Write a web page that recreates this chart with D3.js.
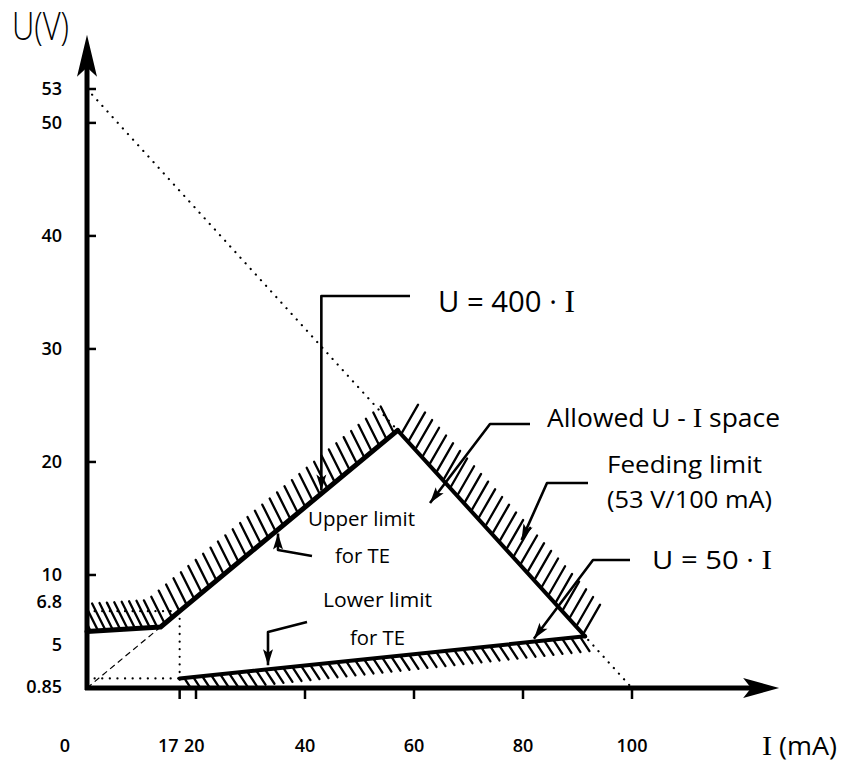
<!DOCTYPE html>
<html><head><meta charset="utf-8">
<script src="https://cdn.jsdelivr.net/npm/d3@7"></script>
<style>
html,body{margin:0;padding:0;background:#fff;}
svg{display:block;font-family:"Open Sans",sans-serif;}
</style></head><body>
<svg id="chart" width="841" height="769"></svg>
<script>
// Axis ticks and labels (current in mA, voltage in V)
const yTickValues = [53, 50, 40, 30, 20, 10];
const yLabelValues = [53, 50, 40, 30, 20, 10, 6.8, 5, 0.85];
const yLabelTexts = ["53", "50", "40", "30", "20", "10", "6.8", "5", "0.85"];
const xTickValues = [17, 20, 40, 60, 80, 100];
const xLabelValues = [40, 60, 80, 100];
const xLabelTexts = ["40", "60", "80", "100"];

// Limit curves as [I (mA), U (V)] vertices
const upperLimit = [[0, 5], [13.5, 5.4], [17, 6.8], [57, 22.8]];     // U = 400·I above 17 mA
const feedingLimit = [[57, 22.8], [91.4, 4.57]];                      // 53 V / 100 mA source
const feedingLine = [[0, 53], [100, 0]];
const lowerLimit = [[17, 0.85], [91.4, 4.57]];                        // U = 50·I
const upperExtension = [[0, 0], [13.5, 5.4]];
const guide68 = [[0, 6.8], [17, 6.8]];
const guide17 = [[17, 6.8], [17, 0]];
const guide085 = [[0, 0.85], [17, 0.85]];

const X_AXIS_END = 127, Y_AXIS_END = 57.8;

const svg = d3.select("#chart");
const x = d3.scaleLinear().domain([0, 100]).range([87, 632]);
const y = d3.scaleLinear().domain([0, 53]).range([688, 89]);
const line = d3.line().x(d => x(d[0])).y(d => y(d[1]));

const x0 = x(0), y0 = y(0);

// ---- hatching helper: short parallel strokes along a polyline
function hatch(pts, dir, len, step, g, xmin) {
  const p = pts.map(d => [x(d[0]), y(d[1])]);
  const n = Math.hypot(dir[0], dir[1]);
  const u = [dir[0] / n, dir[1] / n];
  let carry = step / 2;
  for (let i = 0; i < p.length - 1; i++) {
    const [ax, ay] = p[i], [bx, by] = p[i + 1];
    let xs = ax + carry;
    while (xs <= bx) {
      const t = (xs - ax) / (bx - ax);
      const ys = ay + t * (by - ay);
      if (xmin === undefined || xs >= xmin) {
        g.append("line")
          .attr("x1", xs).attr("y1", ys)
          .attr("x2", xs + u[0] * len).attr("y2", ys + u[1] * len);
      }
      xs += step;
    }
    carry = xs - bx;
  }
}

svg.append("defs").append("clipPath").attr("id", "plotClip")
  .append("rect").attr("x", x0 + 2).attr("y", 0).attr("width", 841).attr("height", y0 - 2);

const hatchG = svg.append("g").attr("stroke", "#000").attr("stroke-width", 2.3)
  .attr("stroke-linecap", "round").attr("clip-path", "url(#plotClip)");
hatch(upperLimit, [-0.45, -0.9], 30, 7.4, hatchG.append("g"), x0 + 3);
hatch(feedingLimit, [0.5, -0.87], 34, 7, hatchG.append("g"));
hatch(lowerLimit, [0.55, 0.84], 17, 9, hatchG.append("g"));

// ---- dotted guides
const dotted = svg.append("g").attr("fill", "none").attr("stroke", "#000")
  .attr("stroke-width", 2.2).attr("stroke-linecap", "round").attr("stroke-dasharray", "0.1 7.5");
dotted.append("path").attr("d", line(feedingLine));
[guide68, guide17, guide085].forEach(g => dotted.append("path").attr("d", line(g)));

svg.append("path").attr("d", line(upperExtension)).attr("fill", "none")
  .attr("stroke", "#000").attr("stroke-width", 1.2).attr("stroke-dasharray", "6 4");

// ---- limit lines
const solid = svg.append("g").attr("fill", "none").attr("stroke", "#000")
  .attr("stroke-linejoin", "round").attr("stroke-linecap", "round");
solid.append("path").attr("d", line(upperLimit)).attr("stroke-width", 5);
solid.append("path").attr("d", line(feedingLimit)).attr("stroke-width", 4);
solid.append("path").attr("d", line(lowerLimit)).attr("stroke-width", 4);

// ---- axes with arrowheads
function bigArrow(tx, ty, ux, uy, L, W) {
  const nx = -uy, ny = ux;
  return [[tx, ty], [tx - ux * L + nx * W, ty - uy * L + ny * W],
          [tx - ux * L * 0.78, ty - uy * L * 0.78],
          [tx - ux * L - nx * W, ty - uy * L - ny * W]];
}
const axisG = svg.append("g");
axisG.append("line").attr("x1", x0).attr("y1", y0 + 2).attr("x2", x0).attr("y2", y(Y_AXIS_END) + 30)
  .attr("stroke", "#000").attr("stroke-width", 5);
axisG.append("line").attr("x1", x0 - 2).attr("y1", y0).attr("x2", x(X_AXIS_END) - 28).attr("y2", y0)
  .attr("stroke", "#000").attr("stroke-width", 5);
axisG.append("polygon").attr("points", bigArrow(x0, y(Y_AXIS_END), 0, -1, 42, 10).join(" "));
axisG.append("polygon").attr("points", bigArrow(x(X_AXIS_END), y0, 1, 0, 36, 10).join(" "));

axisG.selectAll(".yt").data(yTickValues).join("line")
  .attr("x1", x0).attr("x2", x0 + 9).attr("y1", d => y(d)).attr("y2", d => y(d))
  .attr("stroke", "#000").attr("stroke-width", 2.5);
axisG.selectAll(".xt").data(xTickValues).join("line")
  .attr("x1", d => x(d)).attr("x2", d => x(d)).attr("y1", y0).attr("y2", y0 + 11)
  .attr("stroke", "#000").attr("stroke-width", 2.5);

// tick labels; the crowded low-voltage labels are spread apart slightly
const crowdShift = v => (v === 6.8 ? -10 : v === 5 ? 13 : v === 0.85 ? 8 : 0);
const lab = svg.append("g").attr("font-size", 18).attr("font-weight", 600).attr("fill", "#000");
lab.selectAll(".yl").data(yLabelValues).join("text")
  .attr("x", x0 - 25).attr("y", d => y(d) + crowdShift(d)).attr("dy", "0.36em")
  .attr("text-anchor", "end").text((d, i) => yLabelTexts[i]);
const xlabY = y0 + 64;
lab.selectAll(".xl").data(xLabelValues).join("text")
  .attr("x", d => x(d)).attr("y", xlabY).attr("text-anchor", "middle")
  .text((d, i) => xLabelTexts[i]);
lab.append("text").attr("x", x(17) - 1).attr("y", xlabY).attr("text-anchor", "end").text("17");
lab.append("text").attr("x", x(20) - 12).attr("y", xlabY).attr("text-anchor", "start").text("20");
lab.append("text").attr("x", x0 - 22).attr("y", xlabY).attr("text-anchor", "middle").text("0");

// axis titles
svg.append("text").attr("x", 12).attr("y", 40).attr("font-size", 38).attr("font-weight", 300)
  .attr("textLength", 57).attr("lengthAdjust", "spacingAndGlyphs").text("U(V)");
const xt = svg.append("text").attr("x", 762).attr("y", 755).attr("font-size", 25)
  .attr("textLength", 75).attr("lengthAdjust", "spacingAndGlyphs");
xt.append("tspan").attr("font-family", "Liberation Serif").attr("font-size", 28).text("I");
xt.append("tspan").text(" (mA)");

// ---- annotations
function label(tx, ty, size, width, parts) {
  const t = svg.append("text").attr("x", tx).attr("y", ty).attr("font-size", size)
    .attr("font-weight", 500).attr("textLength", width).attr("lengthAdjust", "spacingAndGlyphs");
  parts.forEach(p => {
    const s = t.append("tspan").text(p.t);
    if (p.serif) s.attr("font-family", "Liberation Serif").attr("font-size", size * 1.08);
  });
}
label(438, 312, 29, 137, [{t: "U  =  400 · "}, {t: "I", serif: true}]);
label(547, 427, 25, 233, [{t: "Allowed U - "}, {t: "I", serif: true}, {t: "  space"}]);
label(607, 473, 24, 155, [{t: "Feeding limit"}]);
label(607, 508, 24, 165, [{t: "(53 V/100 mA)"}]);
label(652, 569, 25, 120, [{t: "U  =  50 · "}, {t: "I", serif: true}]);
label(308, 526, 20, 107, [{t: "Upper limit"}]);
label(335, 563, 20, 55, [{t: "for TE"}]);
label(323, 607, 20, 109, [{t: "Lower limit"}]);
label(350, 645, 20, 55, [{t: "for TE"}]);

// leader lines ending in arrowheads
function leader(pts) {
  svg.append("path").attr("d", d3.line()(pts)).attr("fill", "none").attr("stroke", "#000")
    .attr("stroke-width", 2.6).attr("stroke-linejoin", "round");
  const [fx, fy] = pts[pts.length - 2], [tx, ty] = pts[pts.length - 1];
  const L = Math.hypot(tx - fx, ty - fy);
  svg.append("polygon").attr("points",
    bigArrow(tx, ty, (tx - fx) / L, (ty - fy) / L, 16, 5).join(" "));
}
const onLine = (seg, I) => {
  const [[a, ua], [b, ub]] = seg;
  return ua + (I - a) / (b - a) * (ub - ua);
};
const i400 = 43;
leader([[410, 296], [x(i400), 296], [x(i400), y(onLine(upperLimit.slice(2), i400)) - 3]]);
leader([[530, 424], [490, 424], [430, 503]]);
const iFeed = 79;
leader([[588, 483], [547, 483], [x(iFeed) + 4, y(onLine(feedingLimit, iFeed)) - 22]]);
const i50 = 82;
leader([[630, 560], [593, 560], [x(i50), y(onLine(lowerLimit, i50)) - 3]]);
const iUp = x.invert(278);
leader([[312, 556], [278, 550], [278, y(onLine(upperLimit.slice(2), iUp)) + 4]]);
const iLow = x.invert(268);
leader([[307, 622], [268, 632], [268, y(onLine(lowerLimit, iLow)) - 4]]);
</script>
</body></html>
